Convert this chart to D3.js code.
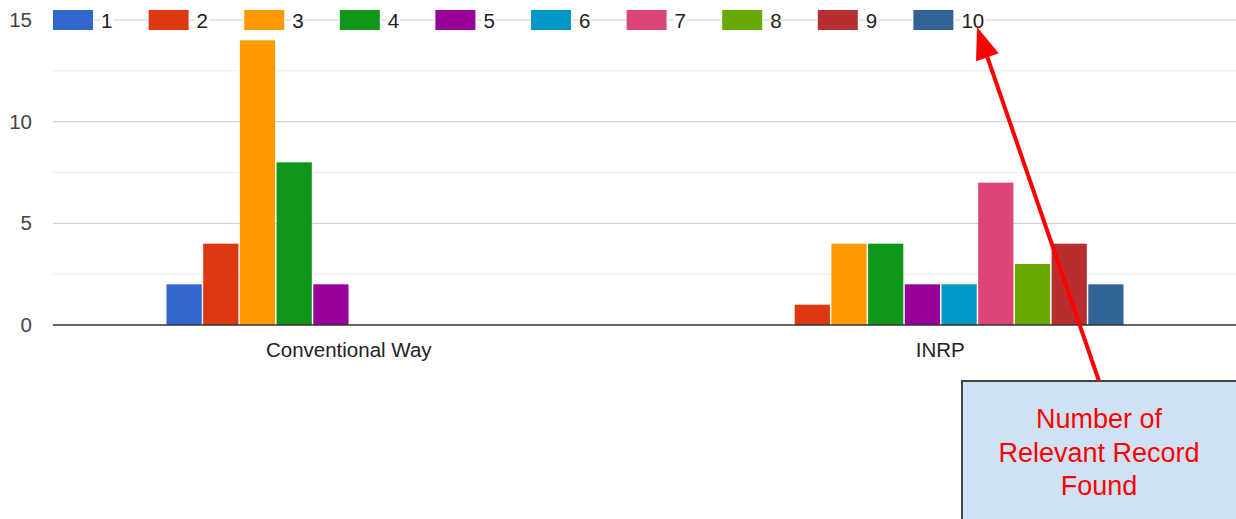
<!DOCTYPE html>
<html>
<head>
<meta charset="utf-8">
<script src="https://cdn.jsdelivr.net/npm/d3@7"></script>
<style>
  body { margin: 0; background: #fff; }
  svg { display: block; font-family: Arial, "Liberation Sans", sans-serif; }
</style>
</head>
<body>
<svg id="chart"></svg>
<script>
// data
const categories = ['Conventional Way', 'INRP']
const seriesNames = ['1', '2', '3', '4', '5', '6', '7', '8', '9', '10']
const conventionalValues = [2, 4, 14, 8, 2, 0, 0, 0, 0, 0]
const inrpValues = [0, 1, 4, 4, 2, 2, 7, 3, 4, 2]
const yTicks = [0, 5, 10, 15]
const yMinorTicks = [2.5, 7.5, 12.5]
const noteLines = ['Number of', 'Relevant Record', 'Found']

const colors = ['#3366cc', '#dc3912', '#ff9900', '#109618', '#990099',
  '#0099c6', '#dd4477', '#66aa00', '#b82e2e', '#316395']

const width = 1236
const height = 519
const padding = { top: 20, right: 0, bottom: 194, left: 53 }
const fontSize = 20.5

const svg = d3.select('#chart').attr('width', width).attr('height', height)

const rows = categories.map((c, i) => ({
  name: c,
  values: i === 0 ? conventionalValues : inrpValues
}))

// scales
const x0 = d3.scaleBand()
  .domain(categories)
  .range([padding.left, width - padding.right])
  .paddingInner(0.382)
  .paddingOuter(0.191)
const x1 = d3.scaleBand()
  .domain(seriesNames)
  .range([0, x0.bandwidth()])
  .paddingInner(0.04)
const y = d3.scaleLinear()
  .domain([0, 15])
  .range([height - padding.bottom, padding.top])

// grid
const grid = svg.append('g').attr('class', 'grid')
grid.selectAll('.minor').data(yMinorTicks).enter().append('line')
  .attr('x1', padding.left).attr('x2', width - padding.right)
  .attr('y1', d => y(d)).attr('y2', d => y(d))
  .attr('stroke', '#ebebeb').attr('stroke-width', 1)
grid.selectAll('.major').data(yTicks.filter(d => d !== 0)).enter().append('line')
  .attr('x1', padding.left).attr('x2', width - padding.right)
  .attr('y1', d => y(d)).attr('y2', d => y(d))
  .attr('stroke', '#cccccc').attr('stroke-width', 1)

// y axis labels
const yAxis = d3.axisLeft(y).tickValues(yTicks).tickSize(0).tickPadding(0)
svg.append('g')
  .attr('transform', `translate(${padding.left - 21},0)`)
  .call(yAxis)
  .call(g => g.select('.domain').remove())
  .call(g => g.selectAll('text')
    .attr('font-size', fontSize).attr('fill', '#444').attr('font-family', 'Arial, "Liberation Sans", sans-serif'))

// bars
const groups = svg.append('g').selectAll('g').data(rows).enter().append('g')
  .attr('transform', d => `translate(${x0(d.name)},0)`)
groups.selectAll('rect')
  .data(d => d.values.map((v, i) => ({ key: seriesNames[i], value: v, color: colors[i] })).filter(d => d.value > 0))
  .enter().append('rect')
  .attr('x', d => x1(d.key) + 0.5)
  .attr('width', x1.bandwidth())
  .attr('y', d => y(d.value))
  .attr('height', d => y(0) - y(d.value))
  .attr('fill', d => d.color)

// zero line
svg.append('line')
  .attr('x1', padding.left).attr('x2', width - padding.right)
  .attr('y1', y(0)).attr('y2', y(0))
  .attr('stroke', '#333').attr('stroke-width', 1.5)

// x axis labels
const xAxis = d3.axisBottom(x0).tickSize(0).tickPadding(0)
svg.append('g')
  .attr('transform', `translate(0,${y(0) + 32})`)
  .call(xAxis)
  .call(g => g.select('.domain').remove())
  .call(g => g.selectAll('text')
    .attr('dy', 0)
    .attr('font-size', fontSize).attr('fill', '#222').attr('font-family', 'Arial, "Liberation Sans", sans-serif'))

// legend
const legend = svg.append('g').attr('class', 'legend')
const legendStep = 95.6
const legendItem = legend.selectAll('g').data(seriesNames).enter().append('g')
  .attr('transform', (d, i) => `translate(${padding.left + i * legendStep},${padding.top})`)
legendItem.append('rect')
  .attr('x', -1).attr('y', -11).attr('width', 42).attr('height', 22)
  .attr('fill', '#fff')
legendItem.append('rect')
  .attr('x', 0).attr('y', -10).attr('width', 40).attr('height', 20)
  .attr('fill', (d, i) => colors[i])
legendItem.append('text')
  .attr('x', 48).attr('y', 7.5)
  .attr('font-size', fontSize).attr('fill', '#222')
  .text(d => d)
  .each(function () {
    const b = this.getBBox()
    d3.select(this.parentNode).insert('rect', 'text')
      .attr('x', b.x - 1).attr('y', -10).attr('width', b.width + 2).attr('height', 20)
      .attr('fill', '#fff')
  })

// annotation box
svg.append('rect')
  .attr('x', 962).attr('y', 381).attr('width', 290).attr('height', 160)
  .attr('fill', '#cfe2f3').attr('stroke', '#434343').attr('stroke-width', 2)
svg.append('g').selectAll('text').data(noteLines).enter().append('text')
  .attr('x', 1099).attr('y', (d, i) => 428 + i * 33.5)
  .attr('text-anchor', 'middle')
  .attr('font-size', 27).attr('fill', '#ff0000')
  .text(d => d)

// arrow
const tip = [977, 27]
const tail = [1099, 381]
const ang = Math.atan2(tail[1] - tip[1], tail[0] - tip[0])
const headLen = 32
const headW = 12
const base = [tip[0] + headLen * Math.cos(ang), tip[1] + headLen * Math.sin(ang)]
const nx = -Math.sin(ang)
const ny = Math.cos(ang)
svg.append('line')
  .attr('x1', tail[0]).attr('y1', tail[1])
  .attr('x2', base[0]).attr('y2', base[1])
  .attr('stroke', '#ff0000').attr('stroke-width', 4)
svg.append('path')
  .attr('d', d3.line()([
    tip,
    [base[0] + nx * headW, base[1] + ny * headW],
    [base[0] - nx * headW, base[1] - ny * headW]
  ]) + 'Z')
  .attr('fill', '#ff0000')
</script>
</body>
</html>
